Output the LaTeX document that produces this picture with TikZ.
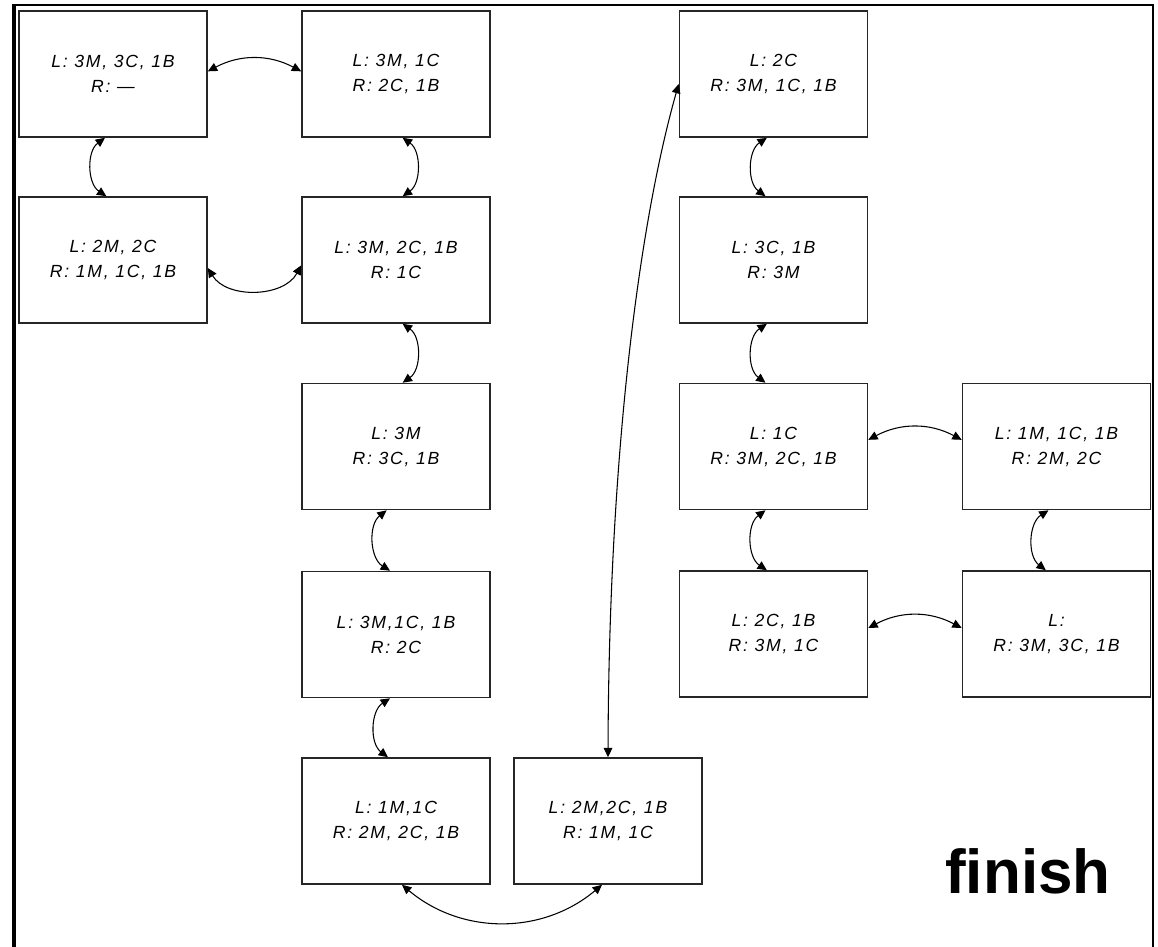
\documentclass[tikz,border=0pt]{standalone}
\usepackage{fontspec}
\setmainfont{Liberation Sans}
\newfontfamily\boxfont[LetterSpace=10]{Liberation Sans}
\usetikzlibrary{arrows.meta}
\begin{document}
\begin{tikzpicture}[x=0.75pt,y=-0.75pt,
  state/.style={draw=black!85, line width=1.2pt, minimum width=141pt, minimum height=94.5pt,
    inner sep=0pt, align=center, font=\boxfont\itshape\fontsize{13.2}{18.75}\selectfont},
  conn/.style={line width=0.8pt, {Triangle[length=7pt,width=6.5pt]}-{Triangle[length=7pt,width=6.5pt]}},
  frameline/.style={line width=2.2pt}]
\useasboundingbox (0,0) rectangle (1158,947);
% frame
\draw[line width=3pt] (14,947) -- (14,5);
\draw[frameline] (12,5) -- (1153,5) -- (1153,947);
% states
\node[state] (A) at (113,74) {L: 3M, 3C, 1B\\R: —};
\node[state] (B) at (396,74) {L: 3M, 1C\\R: 2C, 1B};
\node[state] (C) at (113,260) {L: 2M, 2C\\R: 1M, 1C, 1B};
\node[state] (D) at (396,260) {L: 3M, 2C, 1B\\R: 1C};
\node[state] (E) at (396,446.5) {L: 3M\\R: 3C, 1B};
\node[state] (F) at (396,634.5) {L: 3M,1C, 1B\\R: 2C};
\node[state] (G) at (396,821) {L: 1M,1C\\R: 2M, 2C, 1B};
\node[state] (H) at (608,821) {L: 2M,2C, 1B\\R: 1M, 1C};
\node[state] (I) at (773.5,74) {L: 2C\\R: 3M, 1C, 1B};
\node[state] (J) at (773.5,260) {L: 3C, 1B\\R: 3M};
\node[state] (K) at (773.5,446.5) {L: 1C\\R: 3M, 2C, 1B};
\node[state] (Lb) at (1056.5,446.5) {L: 1M, 1C, 1B\\R: 2M, 2C};
\node[state] (M) at (773.5,634) {L: 2C, 1B\\R: 3M, 1C};
\node[state] (N) at (1056.5,634) {L:\\R: 3M, 3C, 1B};
\node[anchor=base, font=\bfseries\fontsize{46.5}{50}\selectfont, inner sep=0pt] (fin) at (1028,893) {finish};
% connectors
\draw[conn] ([yshift=2pt]A.east) to[bend left=28] ([yshift=2pt]B.west);
\draw[conn] ([xshift=-6pt]A.south) to[bend right=55] ([xshift=-5pt]C.north);
\draw[conn] ([xshift=5pt]B.south) to[bend left=55] ([xshift=5pt]D.north);
\draw[conn] ([yshift=-6pt]C.east) to[bend right=60] ([yshift=-4pt]D.west);
\draw[conn] ([xshift=5pt]D.south) to[bend left=55] ([xshift=5pt]E.north);
\draw[conn] ([xshift=-7pt]E.south) to[bend right=55] ([xshift=-4.5pt]F.north);
\draw[conn] ([xshift=-4.5pt]F.south) to[bend right=55] ([xshift=-6pt]G.north);
\draw[conn] ([xshift=4.5pt]G.south) to[bend right=40] ([xshift=-4.5pt]H.south);
\draw[conn] (H.north) .. controls (609,450) and (640,220) .. ([yshift=-7.5pt]I.west);
\draw[conn] ([xshift=-5pt]I.south) to[bend right=55] ([xshift=-6pt]J.north);
\draw[conn] ([xshift=-5pt]J.south) to[bend right=55] ([xshift=-6pt]K.north);
\draw[conn] ([xshift=-6pt]K.south) to[bend right=55] ([xshift=-5pt]M.north);
\draw[conn] ([yshift=5pt]K.east) to[bend left=28] ([yshift=5pt]Lb.west);
\draw[conn] ([xshift=-6pt]Lb.south) to[bend right=55] ([xshift=-8pt]N.north);
\draw[conn] ([yshift=4.5pt]M.east) to[bend left=28] ([yshift=4.5pt]N.west);
\end{tikzpicture}
\end{document}
